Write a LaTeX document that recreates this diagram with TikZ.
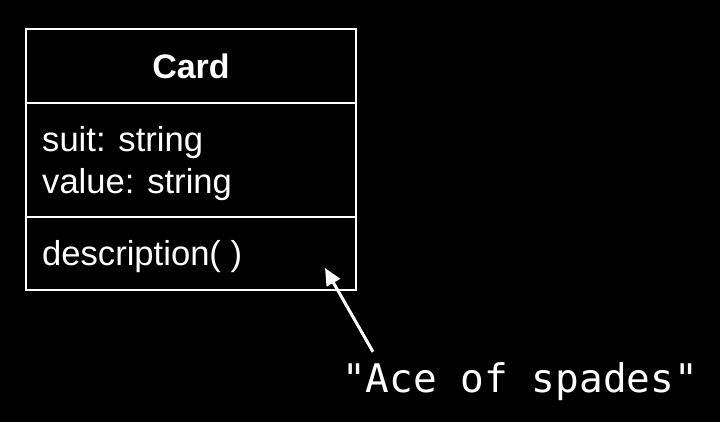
\documentclass[tikz,border=0pt]{standalone}
\usepackage{fontspec}
\setmainfont{Liberation Sans}
\newfontfamily\codefont{DejaVu Sans Mono}
\usetikzlibrary{arrows.meta,positioning}

\begin{document}
\begin{tikzpicture}[
    x=1pt, y=-1pt,
    part/.style={
        rectangle, draw=white, line width=2pt,
        minimum width=330pt, inner sep=0pt, outer sep=0pt,
        text=white
    },
    member/.style={
        anchor=base west, inner sep=0pt, text=white,
        font=\fontsize{34.6}{40}\selectfont
    },
    arr/.style={-{Triangle[length=17pt,width=15pt]}, line width=3pt, draw=white},
]
\fill[black] (0,0) rectangle (720,422);
\useasboundingbox (0,0) rectangle (720,422);

% class box
\node[part, minimum height=74pt, font=\bfseries\fontsize{34}{40}\selectfont] (head) at (191,66) {Card};
\node[part, minimum height=114pt, below=0pt of head] (attrs) {};
\node[part, minimum height=73pt, below=0pt of attrs] (ops) {};

\node[member] (suit) at (42,152) {suit: string};
\node[member] (value) at (42,194) {value: string};
\node[member] (desc) at (42,265) {description( )};

% returned value
\node[anchor=base west, inner sep=0pt, text=white,
      font=\codefont\fontsize{39.4}{44}\selectfont] (spades) at (342,392) {"Ace of spades"};

\coordinate (tip) at (325,268);
\draw[arr] ([xshift=31pt,yshift=10pt]spades.north west) -- (tip);

\end{tikzpicture}
\end{document}
